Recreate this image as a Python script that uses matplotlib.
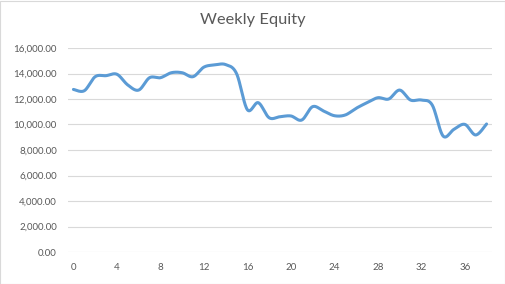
import numpy as np
import matplotlib.pyplot as plt
from matplotlib.patches import Rectangle
from matplotlib.ticker import FuncFormatter, MultipleLocator

# weekly equity
weeks = list(range(39))
equity = [12750, 12650, 13750, 13830, 13940, 13100, 12700, 13670, 13670, 14060,
          14060, 13750, 14500, 14670, 14700, 14000, 11160, 11710, 10530, 10610,
          10670, 10350, 11400, 11060, 10690, 10745, 11270, 11710, 12100, 12000,
          12700, 11920, 11920, 11530, 9100, 9620, 10010, 9180, 10040]


def smooth(x, y, n=20):
    # Catmull-Rom style smoothing like Excel's "smoothed line"
    x = np.asarray(x, dtype=float)
    y = np.asarray(y, dtype=float)
    px = np.concatenate([[x[0]], x, [x[-1]]])
    py = np.concatenate([[y[0]], y, [y[-1]]])
    xs, ys = [], []
    for i in range(1, len(px) - 2):
        p0, p1, p2, p3 = (np.array([px[j], py[j]]) for j in range(i - 1, i + 3))
        c1 = p1 + (p2 - p0) / 6
        c2 = p2 - (p3 - p1) / 6
        t = np.linspace(0, 1, n, endpoint=False)[:, None]
        pts = ((1 - t) ** 3 * p1 + 3 * (1 - t) ** 2 * t * c1
               + 3 * (1 - t) * t ** 2 * c2 + t ** 3 * p2)
        xs.extend(pts[:, 0])
        ys.extend(pts[:, 1])
    xs.append(x[-1])
    ys.append(y[-1])
    return np.array(xs), np.array(ys)


plt.rcParams["font.family"] = ["Lato", "DejaVu Sans"]

fig = plt.figure(figsize=(5.06, 2.84), dpi=100)
ax = fig.add_axes([68 / 506, 32 / 284, 424 / 506, 204 / 284])

sx, sy = smooth(weeks, equity)
ax.plot(sx, sy, color="#5B9BD5", linewidth=2.2, solid_capstyle="round")

ax.set_xlim(-0.5, 38.5)
ax.set_ylim(0, 16000)
ax.xaxis.set_major_locator(MultipleLocator(4))
ax.yaxis.set_major_locator(MultipleLocator(2000))
ax.yaxis.set_major_formatter(FuncFormatter(lambda v, _: f"{v:,.2f}"))
ax.grid(axis="y", color="#D9D9D9", linewidth=0.8)
ax.set_axisbelow(True)
for s in ax.spines.values():
    s.set_visible(False)
ax.tick_params(length=0, labelsize=7, colors="#595959", pad=8)

fig.suptitle("Weekly Equity", y=0.955, fontsize=11.8, color="#595959")
fig.patches.append(Rectangle((0.5 / 506, 0.5 / 284), 505 / 506, 283 / 284,
                             transform=fig.transFigure, fill=False,
                             edgecolor="#D9D9D9", linewidth=0.8))

fig.savefig("out.png", dpi=100)
